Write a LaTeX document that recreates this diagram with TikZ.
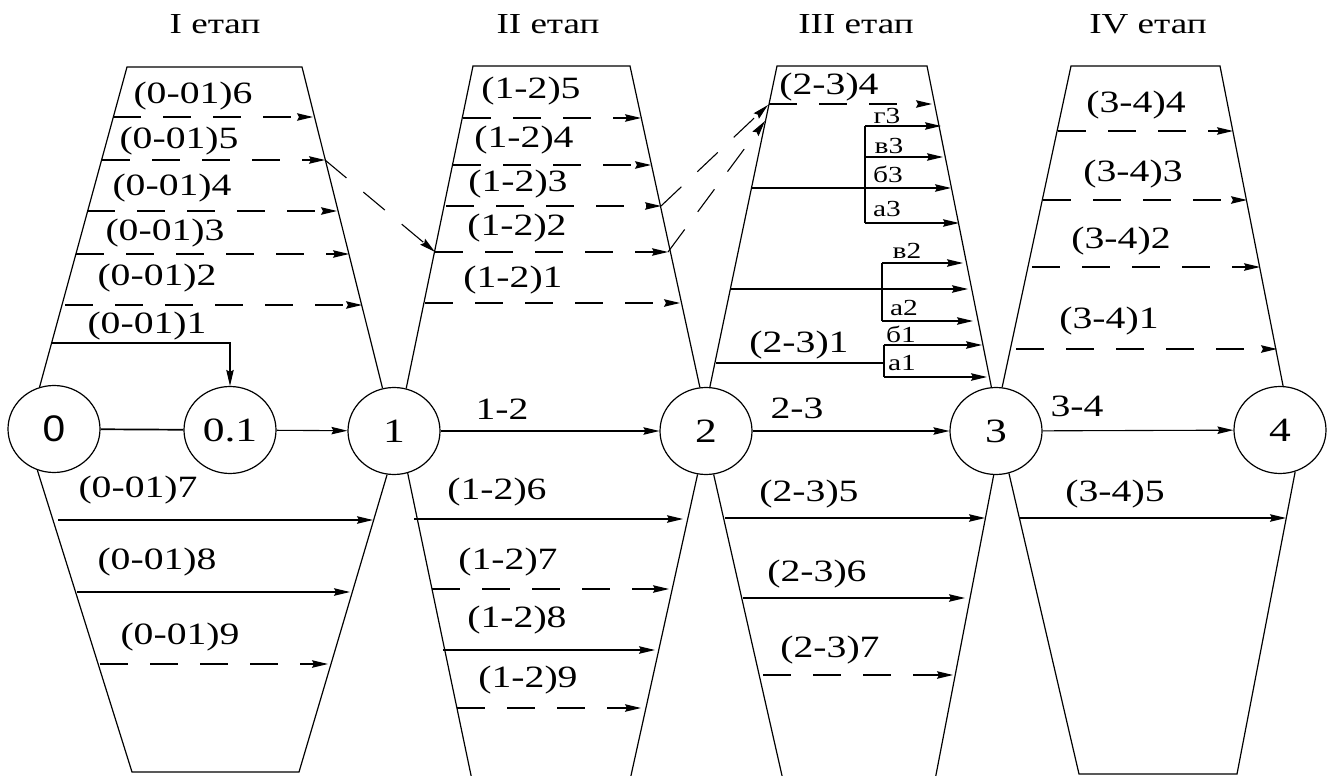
\documentclass[tikz,border=0pt]{standalone}
\usepackage{fontspec}
\setmainfont{Liberation Serif}[FakeStretch=1.28]
\newfontfamily\numsans{Liberation Sans}[FakeStretch=1.1]
\usetikzlibrary{arrows.meta,shapes.geometric}

% horizontal activity: style, name, x start, x end, y
\newcommand\hact[5]{%
  \coordinate (#2s) at (#3,#5);
  \coordinate (#2e) at (#4,#5);
  \draw[#1] (#2s) -- (#2e);}

\begin{document}
\begin{tikzpicture}[x=1pt,y=-1pt,
  every node/.style={inner sep=0pt},
  outline/.style={line width=1.2pt, line join=miter},
  state/.style={draw, ellipse, line width=1.2pt, minimum width=92pt,
    minimum height=87pt, font=\fontsize{34}{34}\selectfont},
  plain/.style={line width=1.1pt},
  act/.style={line width=1.1pt, -{Stealth[length=16pt,width=7.5pt,inset=2pt]}},
  dact/.style={act, dash pattern=on 28pt off 22pt},
  lab/.style={font=\fontsize{31}{31}\selectfont},
  sub/.style={font=\fontsize{23}{23}\selectfont},
  head/.style={font=\fontsize{29}{29}\selectfont},
]
\useasboundingbox (0,0) rectangle (1333,776);

% events
\node[state, font=\numsans\fontsize{37}{37}\selectfont] (n0) at (54,429) {0};
\node[state] (n01) at (230,430) {0.1};
\node[state] (n1) at (394,431) {1};
\node[state] (n2) at (706,431) {2};
\node[state] (n3) at (996,431) {3};
\node[state] (n4) at (1280,430) {4};

% stage headers
\node[head] (h1) at (215,24) {I етап};
\node[head] (h2) at (548,24) {II етап};
\node[head] (h3) at (856,24) {III етап};
\node[head] (h4) at (1148,24) {IV етап};

% stage outlines
\draw[outline] (n0.109) -- (127,67) -- (302,67) -- (n1.105);
\draw[outline] (n0.248) -- (132,772) -- (299,772) -- (n1.261);
\draw[outline] (n1.74) -- (473,66) -- (630,66) -- (n2.98);
\draw[outline] (n1.288) -- (472,780);
\draw[outline] (n2.259) -- (630,780);
\draw[outline] (n2.85) -- (777,66) -- (927,66) -- (n3.96);
\draw[outline] (n2.280) -- (783,780);
\draw[outline] (n3.267) -- (935,780);
\draw[outline] (n3.82) -- (1071,66) -- (1220,66) -- (n4.86);
\draw[outline] (n3.287) -- (1079,774) -- (1237,774) -- (n4.290);

% main chain
\draw[line width=1.7pt] (n0) -- (n01);
\draw[act] (n01) -- (n1);
\draw[act] (n1) -- (n2);
\draw[act] (n2) -- (n3);
\draw[act] (n3) -- (n4);
\node[lab] (t12) at (502,409) {1-2};
\node[lab] (t23) at (797,408) {2-3};
\node[lab] (t34) at (1077,406) {3-4};

% stage I
\hact{dact}{a6}{113}{313}{117}
\hact{dact}{a5}{102}{325}{160}
\hact{dact}{a4}{87}{337}{211}
\hact{dact}{a3}{76}{349}{254}
\hact{dact}{a2}{65}{362}{305}
\coordinate (a1s) at (52,343);
\draw[act] (a1s) -| (n01.north);
\hact{act}{a7}{58}{373}{520}
\hact{act}{a8}{77}{350}{592}
\hact{dact}{a9}{100}{328}{664}
\node[lab] (la6) at (193,96) {(0-01)6};
\node[lab] (la5) at (179,141) {(0-01)5};
\node[lab] (la4) at (172,188) {(0-01)4};
\node[lab] (la3) at (165,233) {(0-01)3};
\node[lab] (la2) at (157,278) {(0-01)2};
\node[lab] (la1) at (147,326) {(0-01)1};
\node[lab] (la7) at (138,490) {(0-01)7};
\node[lab] (la8) at (157,562) {(0-01)8};
\node[lab] (la9) at (180,637) {(0-01)9};

% stage II
\hact{dact}{b5}{463}{641}{118}
\hact{dact}{b4}{453}{651}{165}
\hact{dact}{b3}{446}{661}{206}
\hact{dact}{b2}{435}{668}{252}
\hact{dact}{b1}{425}{680}{303}
\hact{act}{b6}{414}{683}{519}
\hact{dact}{b7}{432}{669}{589}
\hact{act}{b8}{443}{655}{650}
\hact{dact}{b9}{457}{641}{708}
\node[lab] (lb5) at (531,91) {(1-2)5};
\node[lab] (lb4) at (524,140) {(1-2)4};
\node[lab] (lb3) at (518,184) {(1-2)3};
\node[lab] (lb2) at (517,228) {(1-2)2};
\node[lab] (lb1) at (513,280) {(1-2)1};
\node[lab] (lb6) at (497,492) {(1-2)6};
\node[lab] (lb7) at (508,562) {(1-2)7};
\node[lab] (lb8) at (517,620) {(1-2)8};
\node[lab] (lb9) at (528,680) {(1-2)9};

% stage III
\hact{dact}{c4}{769}{932}{104}
\hact{act}{c3}{752}{951}{188}
\coordinate (g3t) at (865,126);
\coordinate (g3b) at (865,223);
\draw[plain] (g3t) -- (g3b);
\coordinate (g3e) at (941,126);
\coordinate (v3) at (865,157);
\coordinate (v3e) at (943,157);
\coordinate (a3e) at (959,223);
\draw[act] (g3t) -- (g3e);
\draw[act] (v3) -- (v3e);
\draw[act] (g3b) -- (a3e);
\hact{act}{c2}{731}{968}{289}
\coordinate (g2t) at (882,263);
\coordinate (g2b) at (882,321);
\draw[plain] (g2t) -- (g2b);
\coordinate (v2e) at (963,263);
\coordinate (a2e) at (973,321);
\draw[act] (g2t) -- (v2e);
\draw[act] (g2b) -- (a2e);
\hact{plain}{c1}{716}{884}{363}
\coordinate (g1t) at (884,345);
\coordinate (g1b) at (884,377);
\draw[plain] (g1t) -- (g1b);
\coordinate (b1e) at (982,345);
\coordinate (a1e) at (987,377);
\draw[act] (g1t) -- (b1e);
\draw[act] (g1b) -- (a1e);
\hact{act}{c5}{725}{985}{518}
\hact{act}{c6}{743}{965}{598}
\hact{dact}{c7}{763}{953}{675}
\node[lab] (lc4) at (829,87) {(2-3)4};
\node[lab] (lc1) at (799,345) {(2-3)1};
\node[lab] (lc5) at (809,494) {(2-3)5};
\node[lab] (lc6) at (817,574) {(2-3)6};
\node[lab] (lc7) at (830,650) {(2-3)7};
\node[sub] (sg3) at (887,116) {г3};
\node[sub] (sv3) at (889,146) {в3};
\node[sub] (sb3) at (888,174) {б3};
\node[sub] (sa3) at (887,209) {а3};
\node[sub] (sv2) at (907,251) {в2};
\node[sub] (sa2) at (904,308) {а2};
\node[sub] (sb1) at (901,334) {б1};
\node[sub] (sa1) at (902,363) {а1};

% stage IV
\hact{dact}{d4}{1058}{1233}{131}
\hact{dact}{d3}{1043}{1247}{200}
\hact{dact}{d2}{1032}{1260}{267}
\hact{dact}{d1}{1016}{1277}{349}
\hact{act}{d5}{1020}{1286}{518}
\node[lab] (ld4) at (1136,105) {(3-4)4};
\node[lab] (ld3) at (1133,174) {(3-4)3};
\node[lab] (ld2) at (1121,241) {(3-4)2};
\node[lab] (ld1) at (1109,321) {(3-4)1};
\node[lab] (ld5) at (1115,494) {(3-4)5};

% links between stages
\coordinate (x2) at (768,105);
\coordinate (x3) at (765,121);
\draw[dact] (a5e) -- (b2s);
\draw[dact] (b3e) -- (x2);
\draw[dact] (b2e) -- (x3);
\end{tikzpicture}
\end{document}
